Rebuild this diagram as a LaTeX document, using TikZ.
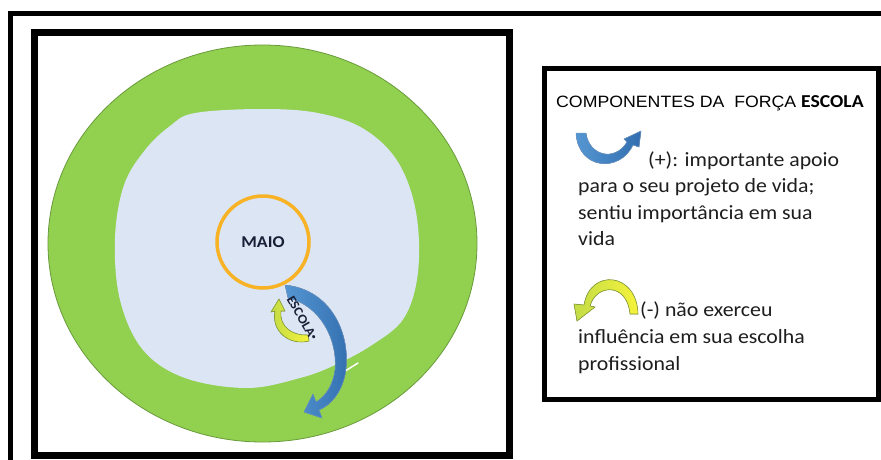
\documentclass[tikz,border=0pt]{standalone}
\usepackage{fontspec}
\setmainfont{Carlito}[FakeStretch=1.08]
\newfontfamily\arialfont{Liberation Sans}[FakeStretch=1.08]
\definecolor{fieldgreen}{RGB}{146,208,80}
\definecolor{fieldedge}{RGB}{105,155,60}
\definecolor{innerblue}{RGB}{219,229,243}
\definecolor{ringorange}{RGB}{248,178,38}
\definecolor{maiotext}{RGB}{25,30,55}
\definecolor{arrowblueA}{RGB}{85,150,210}
\definecolor{arrowblueB}{RGB}{50,110,175}
\definecolor{arrowyelA}{RGB}{195,220,70}
\definecolor{arrowyelB}{RGB}{245,242,60}
\definecolor{arrowyeledge}{RGB}{135,160,55}
\definecolor{legendgray}{RGB}{30,30,30}

\begin{document}
\begin{tikzpicture}[x=1pt,y=-1pt,inner sep=0pt,
  bluearrow/.style={left color=arrowblueA,right color=arrowblueB,draw=arrowblueB!70!white,line width=0.5},
  yelarrow/.style={left color=arrowyelA,right color=arrowyelB,draw=arrowyeledge,line width=0.6},
  legtext/.style={anchor=base west,text=legendgray,font=\fontsize{20.2}{26.5}\selectfont}]
  \useasboundingbox (0,0) rectangle (881,459);
  \clip (0,0) rectangle (881,459);
  \fill[white] (0,0) rectangle (881,459);
  \draw[line width=5] (10,13.5) rectangle (900,480);
  \draw[line width=7] (34.5,32.5) rectangle (509.5,455.5);
  \draw[line width=5] (544.5,68.5) rectangle (878.5,399.5);

  \draw[fill=fieldgreen,draw=fieldedge,line width=0.8] (262.5,243.5) ellipse [x radius=214.5pt,y radius=198.5pt];
  \fill[innerblue] plot[smooth cycle,tension=0.6] coordinates {(195,113) (262,109) (318,113) (364,129) (398,162) (416,212) (418,272) (404,318) (372,345) (335,365) (300,378) (247,388) (185,378) (143,350) (120,300) (115,238) (124,185) (145,150) (170,126)};
  \draw[white,line width=1.5,line cap=round] (358,363) -- (342,373);

  \node[circle,draw=ringorange,line width=3.5,minimum size=92pt,text=maiotext,font=\bfseries\fontsize{16.5}{16.5}\selectfont] (maio) at (263,242) {MAIO};

  \fill[bluearrow] (285,285) .. controls (335,290) and (352,340) .. (345,375) .. controls (341,393) and (331,405) .. (319,410) -- (322,418) -- (304,412) -- (313,394) -- (316,402) .. controls (326,396) and (333,385) .. (335,370) .. controls (338,340) and (320,305) .. (288,298) -- cycle;
  \fill[yelarrow] (309,341) .. controls (289,346) and (271,331) .. (275,311) -- (271,312) -- (279,299) -- (285,311) -- (281,311) .. controls (279,327) and (293,336) .. (308,335) -- cycle;
  \node[rotate=-60,text=maiotext,font=\bfseries\fontsize{13}{13}\selectfont] (escola) at (302,318) {ESCOLA\raisebox{3pt}{\fontsize{7}{7}\selectfont•}};

  \node[anchor=base west,font=\fontsize{16.4}{16.4}\selectfont] (title) at (556,107) {\arialfont COMPONENTES DA\ \ FORÇA {\normalfont\bfseries\fontsize{18.2}{18.2}\selectfont ESCOLA}};

  \fill[bluearrow] (576,133) -- (586,133) .. controls (589,156) and (615,162) .. (627,142) -- (624,139) -- (641,131) -- (639,147) -- (633,145) .. controls (620,173) and (578,170) .. (576,133) -- cycle;
  \node[legtext] (plus0) at (648,166) {(+): importante apoio};
  \foreach \txt [count=\i] in {{para o seu projeto de vida;},{sentiu importância em sua},{vida}}
    \node[legtext] (plus\i) at (578,166+26.5*\i) {\txt};

  \fill[yelarrow] (630,314) -- (638,314) .. controls (637,272) and (590,268) .. (584,305) -- (574,304) -- (577,321) -- (595,307) -- (590,306) .. controls (596,284) and (627,282) .. (630,314) -- cycle;
  \node[legtext] (minus0) at (640,316) {(-) não exerceu};
  \foreach \txt [count=\i] in {{influência em sua escolha},{profissional}}
    \node[legtext] (minus\i) at (578,316+27*\i) {\txt};
\end{tikzpicture}
\end{document}
